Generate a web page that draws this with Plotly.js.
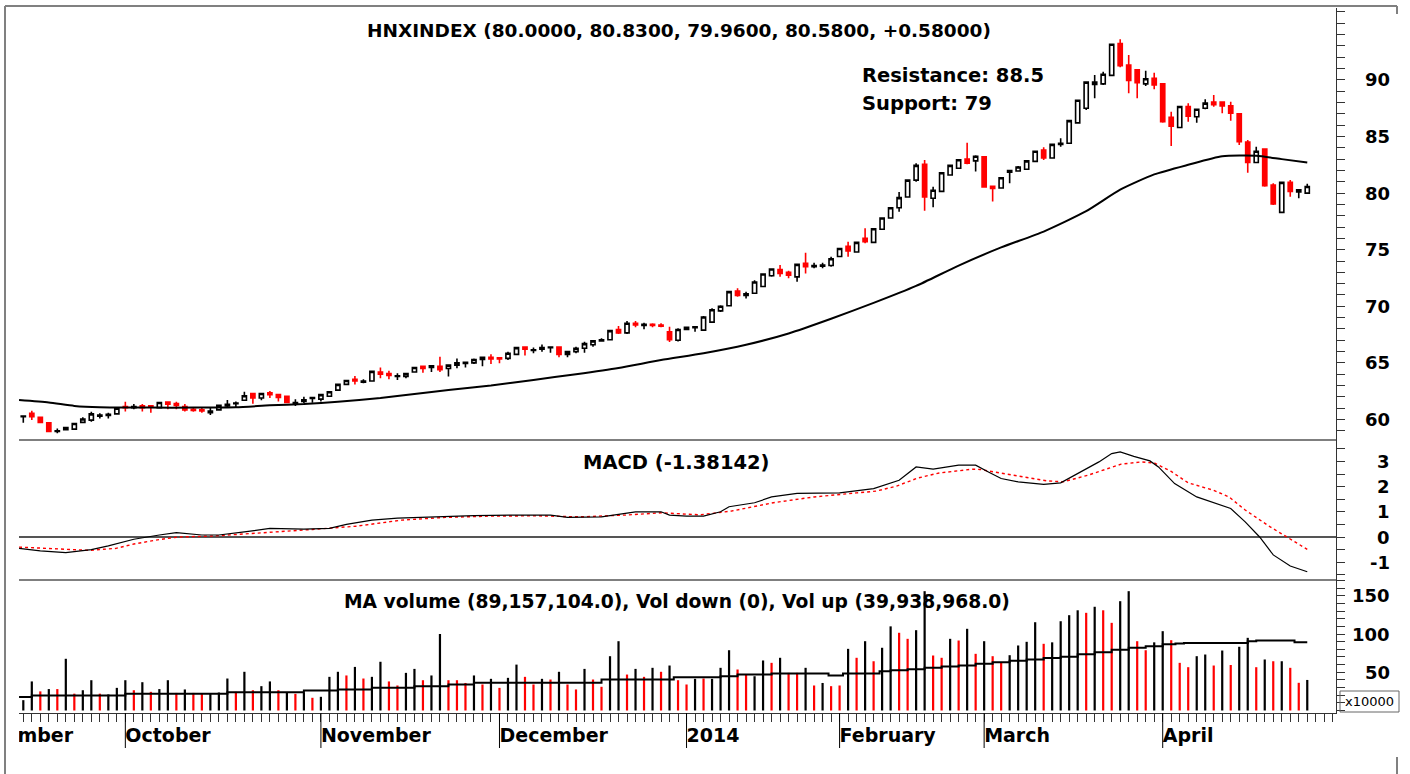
<!DOCTYPE html>
<html>
<head>
<meta charset="utf-8">
<script src="https://cdn.plot.ly/plotly-3.0.1.min.js"></script>
<style>html,body{margin:0;padding:0;background:#fff;}#chart{width:1410px;height:774px;}</style>
</head>
<body>
<div id="chart"></div>
<script>
// ---------- DATA (trading-day index 0 = 13 Sep 2013 ... 151 = 25 Apr 2014) ----------
const open = [
60.25,60.55,60.2,59.7,58.95,59.1,59.15,59.75,59.95,60.3,
60.35,60.5,61.15,61.05,61.2,61.2,61.05,61.55,61.4,61.15,
60.9,60.85,60.6,60.85,61.2,61.4,61.7,62.3,61.9,62.35,
62.2,62.05,61.4,61.6,61.85,61.8,62.05,62.6,63.1,63.55,
63.3,63.4,64.2,64.05,63.8,63.8,64.2,64.7,64.6,64.7,
64.5,64.8,64.95,65.0,65.3,65.5,65.45,65.4,65.75,66.4,
66.1,66.2,66.35,66.4,65.75,66.0,66.3,66.6,66.95,67.05,
67.95,67.65,68.5,68.3,68.4,68.35,67.75,67.0,67.95,68.1,
67.9,68.6,69.6,70.05,71.35,70.95,71.15,71.75,72.7,73.25,
73.0,72.6,73.8,73.5,73.55,73.6,74.4,75.3,74.8,76.0,
75.65,76.8,77.8,78.7,79.65,81.15,82.55,79.55,80.15,81.6,
82.2,83.0,82.85,83.2,80.6,80.45,81.85,81.95,82.1,82.8,
83.8,83.1,84.3,84.4,86.2,87.5,89.6,89.65,90.4,93.2,
91.3,90.9,89.65,90.15,89.65,86.7,85.8,87.65,86.75,87.5,
88.05,88.05,87.7,87.0,84.5,82.7,83.9,80.7,78.3,80.95,
80.1,80.0];
const high = [
60.35,60.78,60.25,59.72,59.2,59.36,59.72,60.2,60.69,60.55,
60.6,61.04,61.57,61.37,61.37,61.25,61.57,61.57,61.57,61.37,
61.08,61.05,61.05,61.28,61.72,61.6,62.46,62.35,62.37,62.52,
62.22,62.08,61.78,62.0,62.0,62.25,62.52,63.14,63.5,63.85,
63.55,64.28,64.6,64.31,64.08,64.13,64.67,64.72,64.8,65.55,
64.81,65.4,65.1,65.4,65.55,65.76,65.5,65.99,66.43,66.43,
66.37,66.63,66.43,66.43,66.08,66.43,66.87,67.02,67.17,67.9,
68.26,68.7,68.7,68.55,68.5,68.5,68.2,68.06,68.2,68.2,
69.14,69.82,70.1,71.38,71.59,71.29,72.3,72.9,73.36,73.65,
73.15,73.74,74.73,73.85,73.85,74.38,75.12,75.71,75.71,76.89,
76.89,77.86,78.74,80.1,81.16,82.63,82.92,80.57,81.8,82.48,
82.98,84.45,83.35,83.28,80.63,81.4,82.04,82.39,82.92,83.75,
84.05,84.34,84.84,86.46,88.22,89.84,90.43,90.72,93.17,93.59,
92.2,90.94,90.81,90.64,89.7,87.19,87.69,87.93,87.45,88.29,
88.66,88.07,88.07,87.05,84.69,84.1,83.96,80.87,81.0,81.16,
80.34,80.83];
const low = [
59.72,59.96,59.66,58.88,58.78,59.07,59.07,59.66,59.8,60.1,
60.1,60.46,60.7,60.9,60.7,60.6,60.98,60.9,60.9,60.7,
60.69,60.6,60.4,60.84,61.08,61.08,61.66,61.4,61.7,61.9,
61.6,61.45,61.19,61.43,61.48,61.6,62.0,62.55,63.05,63.1,
63.2,63.34,63.64,63.55,63.49,63.64,64.13,64.13,64.2,64.2,
63.8,64.52,64.6,64.9,64.7,64.9,64.96,65.26,65.7,65.65,
65.86,65.99,65.9,65.5,65.5,65.86,65.9,66.43,66.87,67.0,
67.55,67.55,68.14,67.97,68.14,68.15,66.85,66.9,67.9,67.75,
67.84,68.55,69.5,70.03,70.85,70.7,71.1,71.73,72.62,72.62,
72.47,72.17,72.9,73.36,73.36,73.5,74.38,74.38,74.73,75.57,
75.62,76.74,77.77,78.35,79.63,81.0,78.45,78.74,80.12,81.6,
82.19,82.55,81.9,80.51,79.25,80.42,80.87,81.89,82.04,82.77,
82.92,83.07,84.1,84.4,86.17,87.34,88.37,89.55,90.37,91.11,
88.82,88.37,89.46,89.17,86.22,84.16,85.72,86.31,86.22,87.4,
87.63,87.05,86.4,84.25,81.8,82.65,80.57,78.95,78.27,79.68,
79.54,79.96];
const close = [
60.3,60.25,59.75,58.95,59.0,59.3,59.65,60.05,60.5,60.4,
60.45,61.0,61.05,61.15,61.05,61.1,61.5,61.35,61.25,60.85,
60.8,60.75,60.75,61.25,61.35,61.45,62.1,61.9,62.3,62.2,
61.95,61.5,61.5,61.75,61.95,62.2,62.45,63.1,63.45,63.4,
63.4,64.25,64.0,63.9,63.85,64.05,64.6,64.5,64.75,64.4,
64.8,65.0,65.05,65.3,65.5,65.35,65.35,65.85,66.35,66.2,
66.15,66.35,66.4,65.75,66.0,66.3,66.7,66.95,67.05,67.85,
67.65,68.5,68.35,68.4,68.3,68.25,67.05,67.95,68.15,68.2,
69.05,69.7,70.0,71.3,70.95,71.1,72.15,72.85,73.3,72.9,
72.75,73.7,73.5,73.6,73.65,74.2,75.1,74.9,75.65,75.7,
76.85,77.8,78.7,79.6,81.15,82.45,79.65,80.25,81.8,82.45,
82.95,82.65,83.25,80.55,80.4,81.35,82.0,82.3,82.85,83.7,
83.1,84.3,84.4,86.4,88.2,89.8,89.8,90.5,93.15,91.25,
89.95,89.75,90.1,89.55,86.3,85.9,87.65,86.8,87.4,87.95,
87.8,87.7,87.05,84.55,82.7,83.7,80.65,79.05,80.95,80.15,
80.3,80.58];

// price moving average (read at selected bars)
const maIdx = [-0.5,3,6,9,15,20,25,29,33,37,42,46,50,55,60,65,70,75,80,85,90,95,100,105,110,115,120,125,129,133,137,141,145,148,151];
const maVal = [61.72,61.5,61.2,61.08,61.05,61.05,61.08,61.25,61.37,61.57,61.9,62.25,62.6,63.0,63.5,64.0,64.55,65.25,65.85,66.6,67.6,68.9,70.3,71.8,73.6,75.2,76.6,78.4,80.3,81.65,82.5,83.25,83.3,83.0,82.7];

// MACD line and signal line
const macdIdx = [-0.5,2,5,8,10,13,16,18,21,23,26,29,33,36,38,41,44,48,53,58,62,64,68,70,72,75,76,78,80,82,83,86,88,91,96,100,103,105,107,110,112,113.5,115,117,120,122,124,126.5,128,129,130.6,132.5,133.5,135.4,138,142,143.7,145.4,147,149,151];
const macdVal = [-0.45,-0.55,-0.62,-0.5,-0.35,-0.09,0.08,0.17,0.08,0.08,0.2,0.34,0.31,0.34,0.5,0.67,0.75,0.8,0.85,0.87,0.87,0.78,0.8,0.9,1.0,1.0,0.87,0.83,0.83,1.0,1.2,1.36,1.59,1.73,1.75,1.92,2.25,2.78,2.69,2.85,2.85,2.58,2.32,2.19,2.09,2.15,2.52,2.98,3.31,3.38,3.2,3.02,2.78,2.12,1.59,1.13,0.6,0.0,-0.71,-1.15,-1.38];
const sigIdx = [-0.5,3.6,7.7,10.9,13,16,18.3,22.4,28.8,34,39.2,44.5,49.7,55,60.3,65.5,70.8,75,79.6,83.3,88.2,93,98,100.3,102.7,105.2,107.7,111.6,112.5,117,120.3,122.3,125.2,129.1,131.5,133,135,137,140,141.8,143.7,146.6,148.6,151];
const sigVal = [-0.4,-0.45,-0.53,-0.45,-0.28,-0.1,0.0,0.04,0.17,0.3,0.43,0.67,0.78,0.83,0.84,0.8,0.87,0.96,0.88,1.03,1.36,1.59,1.75,1.82,2.02,2.34,2.54,2.69,2.68,2.41,2.23,2.19,2.45,2.89,2.98,2.94,2.6,2.15,1.85,1.59,1.07,0.41,0.0,-0.49];

// volume (x10000) and its direction (1 = up/black, 0 = down/red)
const vol = [
13.5,38,25,28,28,67.6,22,26.5,39.6,22,
21,29.6,39.6,26.5,37,24.4,28,39.6,23,27.5,
23,22,22,23.5,41.8,24.4,50.6,26.5,31.8,38,
26.5,23.5,21.8,23,16.6,17.9,44,50.6,45.8,57,
41.8,44,63.7,38,32.7,49.2,54.4,39.6,45.8,100,
39.6,39.6,36,45.8,34,41.4,29.6,42.7,60,44,
34,41.4,40.5,50.6,34,27.5,54.4,40.5,31,71,
90.6,47,54.4,44,55.8,50.6,58.8,39.6,34,41.4,
41.8,41.4,55.8,78.8,53.6,47,44.8,65.4,62.3,68.9,
49.2,49.2,55.8,32.7,36,31.8,32.7,80.6,68.9,90.6,
64.4,82,110,101.6,93.7,105,156,71.9,68.9,93.7,
91.5,106.8,74.1,90.6,71,62.3,72.3,85,89.8,115.4,
87.2,89.1,116.7,124.6,131,127.7,135.6,131,114.6,142.9,
156,90.6,78.8,89.1,103.7,91.9,62.3,56.6,71,73.2,
58.8,78.4,59.5,83.3,95,56.6,66.7,64.4,64.4,55.8,
36.2,39.94];
const volUp = [
1,1,0,1,0,1,0,1,1,0,
1,1,1,0,1,0,1,1,0,1,
0,0,1,1,1,0,1,0,1,1,
0,1,0,1,0,1,1,1,0,1,
0,1,1,0,0,1,1,0,1,1,
0,0,0,1,0,1,0,1,1,0,
0,1,0,1,0,0,1,0,0,1,
1,0,1,0,1,0,1,0,0,1,
0,1,1,1,0,0,1,1,0,1,
0,0,1,0,1,0,0,1,0,1,
0,1,1,0,0,1,1,0,0,1,
0,1,0,1,0,0,1,1,1,1,
0,1,1,1,1,0,1,0,0,1,
1,0,0,1,1,0,0,0,1,1,
0,1,0,1,1,0,1,0,1,0,
0,1];
// volume moving average (step line)
const vmaIdx = [-0.5,1,12,24,33,37,41,46,50,53,68,76.5,82,84,88,94.7,96.4,100.7,102,104,106,108,110,112,114,116,118,120,122,124,126,128,130,132,134,135.5,136.5,144,145,149.5,151];
const vmaVal = [17.5,19.6,21.8,23.9,26.1,27.5,29.6,31.8,34,36.2,40.5,43.5,44.8,47,48.4,45.8,48.4,51.4,52.7,54,55.8,57.5,58.8,61,63.1,65,66.7,68.5,70.2,73.5,76.2,79.5,82,84,86.5,87.6,88.2,90.6,91.5,89.2,89.2];

// month starts (trading-day index) and labels
const monthStarts = [-8,12,35,56,78,96,113,134];
const monthLabels = ["September","October","November","December","2014","February","March","April"];

// axis tick labels
const priceTicks = [60,65,70,75,80,85,90];
const macdTicks = [-1,0,1,2,3];
const volTicks = [50,100,150];

const titleMain = "HNXINDEX (80.0000, 80.8300, 79.9600, 80.5800, +0.58000)";
const titleRes = "Resistance: 88.5";
const titleSup = "Support: 79";
const titleMacd = "MACD (-1.38142)";
const titleVol = "MA volume (89,157,104.0), Vol down (0), Vol up (39,938,968.0)";

// ---------- LAYOUT GEOMETRY ----------
const W = 1410, H = 774, ML = 19, MR = 74, MT = 8, MB = 0;
const PW = W - ML - MR, PH = H - MT - MB;
const px2x = X => (X - ML) / PW;
const py2y = Y => (H - MB - Y) / PH;
const yPriceBot = py2y(440), yMacdBot = py2y(580), yVolBot = py2y(713);

const idx = close.map((_, i) => i);
const F = 'DejaVu Sans';

const traces = [
  {type:'bar', x: idx, y: vol, width: 0.26, xaxis:'x', yaxis:'y3',
   marker:{color: volUp.map(u => u ? '#000000' : '#ff0000'), line:{width:0}}, hoverinfo:'skip'},
  {type:'scatter', mode:'lines', x: vmaIdx, y: vmaVal, xaxis:'x', yaxis:'y3',
   line:{color:'#000', width:2, shape:'hv'}, hoverinfo:'skip'},
  {type:'candlestick', x: idx, open: open, high: high, low: low, close: close, xaxis:'x', yaxis:'y',
   increasing:{line:{color:'#000000', width:1.6}, fillcolor:'#ffffff'},
   decreasing:{line:{color:'#ff0000', width:1.6}, fillcolor:'#ff0000'},
   whiskerwidth: 0, hoverinfo:'skip'},
  {type:'scatter', mode:'lines', x: maIdx, y: maVal, xaxis:'x', yaxis:'y',
   line:{color:'#000', width:2, shape:'spline', smoothing:0.6}, hoverinfo:'skip'},
  {type:'scatter', mode:'lines', x: sigIdx, y: sigVal, xaxis:'x', yaxis:'y2',
   line:{color:'#ff0000', width:1.4, dash:'dot'}, hoverinfo:'skip'},
  {type:'scatter', mode:'lines', x: macdIdx, y: macdVal, xaxis:'x', yaxis:'y2',
   line:{color:'#000', width:1.2}, hoverinfo:'skip'},
  {type:'scatter', mode:'text', x: monthStarts, y: monthStarts.map(() => 0.607), text: monthLabels,
   textposition:'middle right', xaxis:'x', yaxis:'y4', cliponaxis:true,
   textfont:{family:F, size:19, color:'#000', weight:'bold'}, hoverinfo:'skip'}
];

const axStyle = {side:'right', anchor:'x', showline:true, linecolor:'#333', linewidth:1,
  ticks:'outside', ticklen:8, tickcolor:'#333', tickwidth:1, showticklabels:false,
  showgrid:false, zeroline:false, tickmode:'linear', tick0:0, fixedrange:true};

const shapes = [];
// panel separators
[yPriceBot, yMacdBot].forEach(y => shapes.push({type:'line', xref:'paper', yref:'paper', x0:0, x1:1, y0:y, y1:y, line:{color:'#555', width:1.5}}));
// month long ticks
monthStarts.filter(m => m >= 0).forEach(m => shapes.push({type:'line', xref:'x', yref:'y4', x0:m, x1:m, y0:1, y1:0.426, line:{color:'#000', width:1}}));
// outer frame pieces
const fxL = px2x(5), fxR = px2x(1397), fyT = py2y(6);
shapes.push({type:'line', xref:'paper', yref:'paper', x0:fxL, x1:fxR, y0:fyT, y1:fyT, line:{color:'#808080', width:2}});
shapes.push({type:'line', xref:'paper', yref:'paper', x0:fxL, x1:fxL, y0:fyT, y1:0, line:{color:'#808080', width:2}});
shapes.push({type:'line', xref:'paper', yref:'paper', x0:fxR, x1:fxR, y0:fyT, y1:py2y(14), line:{color:'#808080', width:2}});
shapes.push({type:'line', xref:'paper', yref:'paper', x0:fxR, x1:fxR, y0:py2y(757), y1:0, line:{color:'#808080', width:2}});
// x10000 box
shapes.push({type:'rect', xref:'paper', yref:'paper', x0:px2x(1340), x1:px2x(1399), y0:py2y(712), y1:py2y(691), line:{color:'#666', width:1}, fillcolor:'rgba(0,0,0,0)'});

const labX = px2x(1392);
const annFont = (s) => ({family:F, size:s, color:'#000', weight:'bold'});
const annotations = [];
priceTicks.forEach(v => annotations.push({xref:'paper', yref:'y', x:labX, y:v, text:String(v), xanchor:'right', yanchor:'middle', showarrow:false, font:annFont(18)}));
macdTicks.forEach(v => annotations.push({xref:'paper', yref:'y2', x:labX, y:v, text:String(v), xanchor:'right', yanchor:'middle', showarrow:false, font:annFont(18)}));
volTicks.forEach(v => annotations.push({xref:'paper', yref:'y3', x:labX, y:v, text:String(v), xanchor:'right', yanchor:'middle', showarrow:false, font:annFont(18)}));
annotations.push({xref:'paper', yref:'paper', x:px2x(1369.5), y:py2y(701.5), text:'x10000', xanchor:'center', yanchor:'middle', showarrow:false, font:{family:F, size:13, color:'#000'}});
annotations.push({xref:'paper', yref:'paper', x:px2x(678.5), y:py2y(30), text:titleMain, xanchor:'center', yanchor:'middle', showarrow:false, font:annFont(18.5)});
annotations.push({xref:'paper', yref:'paper', x:px2x(860), y:py2y(75), text:titleRes, xanchor:'left', yanchor:'middle', showarrow:false, font:annFont(19.5)});
annotations.push({xref:'paper', yref:'paper', x:px2x(860), y:py2y(103), text:titleSup, xanchor:'left', yanchor:'middle', showarrow:false, font:annFont(19.5)});
annotations.push({xref:'paper', yref:'paper', x:px2x(676.5), y:py2y(462), text:titleMacd, xanchor:'center', yanchor:'middle', showarrow:false, font:annFont(19.5)});
annotations.push({xref:'paper', yref:'paper', x:px2x(677), y:py2y(601), text:titleVol, xanchor:'center', yanchor:'middle', showarrow:false, font:annFont(18.7)});

const layout = {
  width:W, height:H, margin:{l:ML, r:MR, t:MT, b:MB, pad:0},
  paper_bgcolor:'#fff', plot_bgcolor:'#fff', showlegend:false,
  font:{family:F, color:'#000'},
  xaxis:{range:[-0.506, 154.38], anchor:'y3', showline:true, linecolor:'#333', linewidth:1,
    ticks:'outside', ticklen:8, tickcolor:'#333', tickmode:'linear', tick0:0, dtick:1,
    showticklabels:false, showgrid:false, zeroline:false, rangeslider:{visible:false}, fixedrange:true},
  yaxis:Object.assign({}, axStyle, {domain:[yPriceBot, 1], range:[58.19, 96.35], dtick:1}),
  yaxis2:Object.assign({}, axStyle, {domain:[yMacdBot, yPriceBot], range:[-1.706, 3.849], dtick:0.5,
    zeroline:true, zerolinecolor:'#555', zerolinewidth:1.5}),
  yaxis3:Object.assign({}, axStyle, {domain:[yVolBot, yMacdBot], range:[-3.27, 170.6], dtick:10}),
  yaxis4:{domain:[0, yVolBot], range:[0, 1], anchor:'x', visible:false, fixedrange:true},
  shapes:shapes, annotations:annotations
};

Plotly.newPlot('chart', traces, layout, {displayModeBar:false, staticPlot:true});
</script>
</body>
</html>
